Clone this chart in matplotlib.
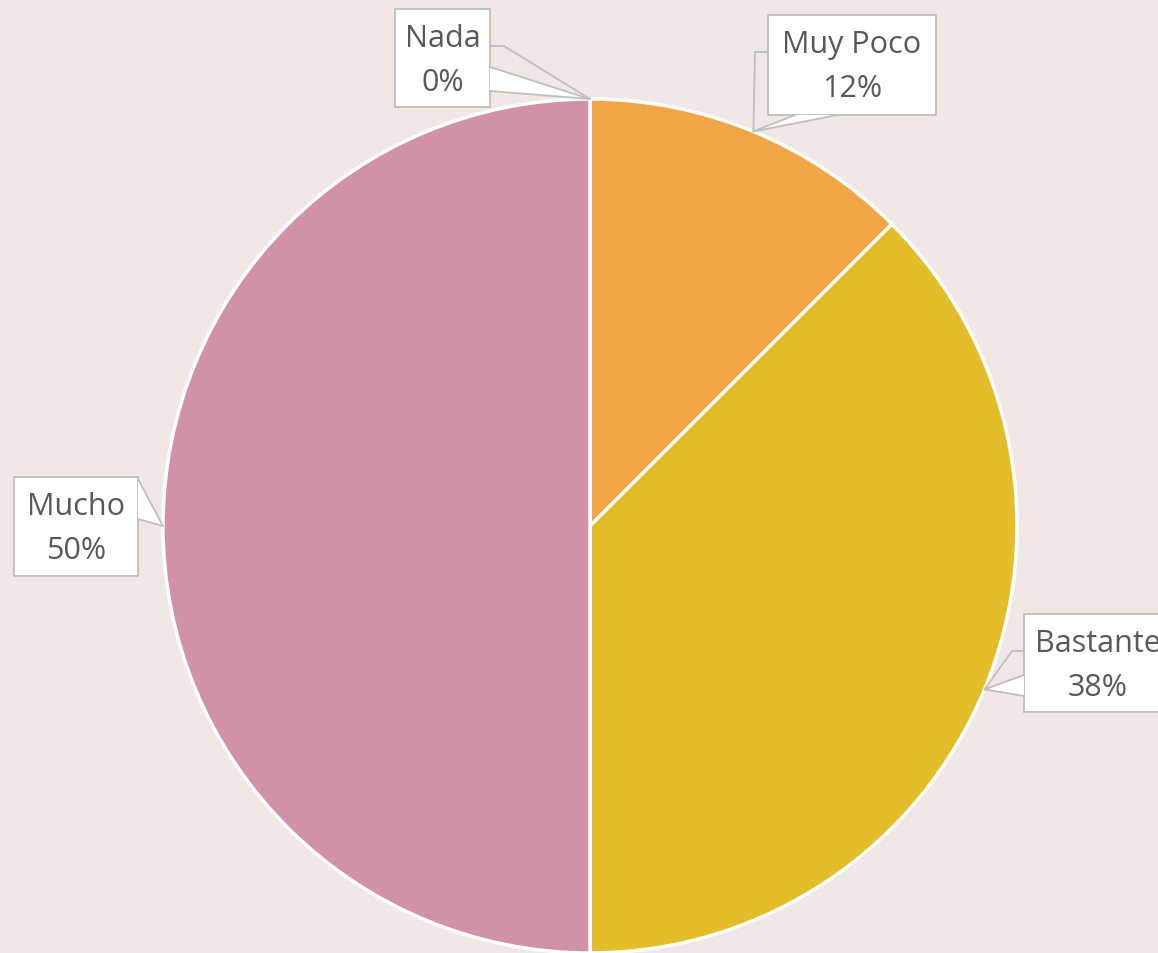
import numpy as np
import matplotlib.pyplot as plt
from matplotlib.patches import Rectangle, Polygon

categories = ['Nada', 'Muy Poco', 'Bastante', 'Mucho']
values = [0, 1, 3, 4]
colors = ['#5B9BD5', '#F2A546', '#E4BE2A', '#D191A8']

W, H = 1158, 954
bg = '#F1E7E5'
txt_col = '#595959'
edge_col = '#BFBFBF'

fig = plt.figure(figsize=(W / 100, H / 100), dpi=100)
fig.patch.set_facecolor(bg)
ax = fig.add_axes([0, 0, 1, 1])

cx, cy, r = 590, H - 527, 427
wedges, _ = ax.pie(values, colors=colors, startangle=90, counterclock=False,
                   center=(cx, cy), radius=r, frame=True,
                   wedgeprops=dict(edgecolor='white', linewidth=2.5))
ax.set_xlim(0, W)
ax.set_ylim(0, H)
ax.set_aspect('equal')
ax.axis('off')

# callout boxes (pixel coords, y down): box, wedge base points, leader line
boxes = {
    'Nada': dict(box=(395, 10, 490, 108), base=[(490, 68), (490, 92)],
                 lead=[(490, 47), (504, 47)]),
    'Muy Poco': dict(box=(768, 16, 936, 116), base=[(795, 116), (837, 116)],
                     lead=[(768, 53), (755, 53)]),
    'Bastante': dict(box=(1024, 615, 1180, 713), base=[(1024, 676), (1024, 697)],
                     lead=[(1024, 652), (1012, 652)]),
    'Mucho': dict(box=(14, 478, 138, 577), base=[(138, 480), (138, 520)],
                  lead=None),
}

total = sum(values)
for w, cat, v in zip(wedges, categories, values):
    mid = np.deg2rad((w.theta1 + w.theta2) / 2)
    tip = (cx + r * np.cos(mid), cy + r * np.sin(mid))
    b = boxes[cat]
    x0, y0, x1, y1 = b['box']
    ax.add_patch(Rectangle((x0, H - y1), x1 - x0, y1 - y0, facecolor='white',
                           edgecolor=edge_col, linewidth=1.3, zorder=5, clip_on=False))
    (bx1, by1), (bx2, by2) = b['base']
    pts = [(bx1, H - by1), tip, (bx2, H - by2)]
    ax.add_patch(Polygon(pts, closed=True, facecolor='white', edgecolor='none', zorder=6))
    ax.plot([pts[0][0], tip[0], pts[2][0]], [pts[0][1], tip[1], pts[2][1]],
            color=edge_col, linewidth=1.3, zorder=6)
    if b['lead']:
        (lx1, ly1), (lx2, ly2) = b['lead']
        ax.plot([lx1, lx2, tip[0]], [H - ly1, H - ly2, tip[1]],
                color=edge_col, linewidth=1.3, zorder=4)
    xc = (x0 + min(x1, 1172)) / 2
    ax.text(xc, H - (y0 + 29), cat, ha='center', va='center', fontsize=22,
            color=txt_col, family='Open Sans', zorder=7)
    ax.text(xc, H - (y0 + 73), f'{v / total * 100:.0f}%', ha='center', va='center',
            fontsize=22, color=txt_col, family='Open Sans', zorder=7)

fig.savefig('out.png', dpi=100, facecolor=bg)
